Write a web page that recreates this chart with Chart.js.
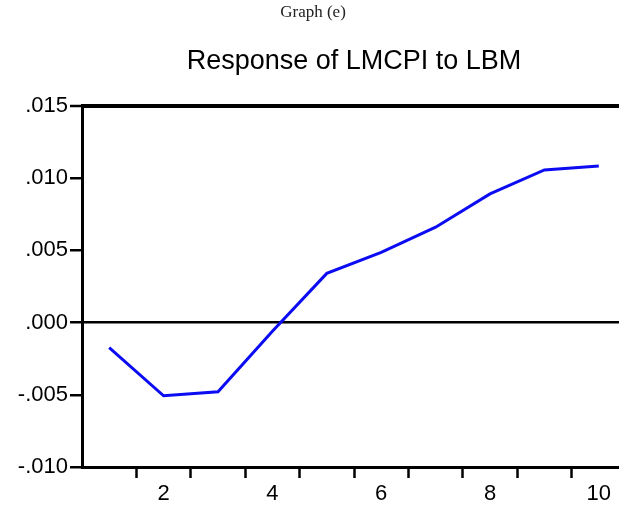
<!DOCTYPE html>
<html>
<head>
<meta charset="utf-8">
<script src="https://cdn.jsdelivr.net/npm/chart.js@4"></script>
<style>
  html, body { margin: 0; padding: 0; background: #fff; overflow: hidden; }
  canvas { display: block; }
</style>
</head>
<body>
<canvas id="grafico" width="654" height="507"></canvas>
<script>
// Datos
const periodos = [1, 2, 3, 4, 5, 6, 7, 8, 9, 10];
const respuesta = [-0.00174, -0.00507, -0.00479, -0.0006, 0.0034, 0.00486, 0.0066, 0.0089, 0.01056, 0.01083];
const etiquetasX = [2, 4, 6, 8, 10];
const marcasX = [1.5, 2.5, 3.5, 4.5, 5.5, 6.5, 7.5, 8.5, 9.5];
const valoresY = [-0.01, -0.005, 0, 0.005, 0.01, 0.015];
const etiquetasY = ['-.010', '-.005', '.000', '.005', '.010', '.015'];

const transparente = 'rgba(0,0,0,0)';
const ticksX = [...marcasX, ...etiquetasX].sort((a, b) => a - b);

// El lienzo es más ancho que la ventana: el borde derecho queda recortado como en la figura
const ctx = document.getElementById('grafico').getContext('2d');
const chart = new Chart(ctx, {
    type: 'line',
    data: {
        datasets: [{
            data: periodos.map((p, i) => ({ x: p, y: respuesta[i] })),
            borderColor: '#0c0cf2',
            borderWidth: 3,
            pointRadius: 0,
            tension: 0,
            fill: false
        }]
    },
    options: {
        responsive: false,
        animation: false,
        layout: { padding: { left: 0, right: 28, top: 0, bottom: 0 } },
        plugins: {
            legend: { display: false },
            tooltip: { enabled: false },
            title: {
                display: true,
                text: 'Graph (e)',
                color: '#222',
                font: { family: 'Liberation Serif', size: 17, weight: 'normal', lineHeight: 1.2 },
                padding: { top: 2, bottom: 0 }
            },
            subtitle: {
                display: true,
                fullSize: false,
                text: 'Response of LMCPI to LBM',
                color: '#000',
                font: { family: 'Liberation Sans', size: 27, weight: 'normal', lineHeight: 1.2 },
                padding: { top: 23, bottom: 28 }
            }
        },
        scales: {
            x: {
                type: 'linear',
                min: 0.5,
                max: 10.5,
                afterBuildTicks: scale => { scale.ticks = ticksX.map(v => ({ value: v })); },
                afterFit: scale => { scale.height = 40; },
                ticks: {
                    autoSkip: false,
                    maxRotation: 0,
                    padding: 3,
                    color: '#000',
                    font: { family: 'Liberation Sans', size: 22 },
                    callback: v => etiquetasX.includes(v) ? String(v) : ''
                },
                grid: {
                    drawOnChartArea: false,
                    drawTicks: true,
                    tickLength: 11,
                    tickWidth: 2.5,
                    tickColor: c => (c.tick && marcasX.includes(c.tick.value)) ? '#000' : transparente
                },
                border: { display: true, color: '#000', width: 3 }
            },
            y: {
                type: 'linear',
                min: -0.01,
                max: 0.015,
                afterBuildTicks: scale => { scale.ticks = valoresY.map(v => ({ value: v })); },
                afterFit: scale => { scale.width = 82; },
                ticks: {
                    padding: 2,
                    color: '#000',
                    font: { family: 'Liberation Sans', size: 22 },
                    callback: v => etiquetasY[valoresY.indexOf(v)]
                },
                grid: {
                    drawTicks: true,
                    tickLength: 12,
                    tickWidth: 2.5,
                    tickColor: '#000',
                    color: c => (c.tick && (c.tick.value === 0 || c.tick.value === 0.015)) ? '#000' : transparente,
                    lineWidth: c => (c.tick && c.tick.value === 0.015) ? 4 : 2.5
                },
                border: { display: true, color: '#000', width: 3 }
            }
        }
    }
});
</script>
</body>
</html>
